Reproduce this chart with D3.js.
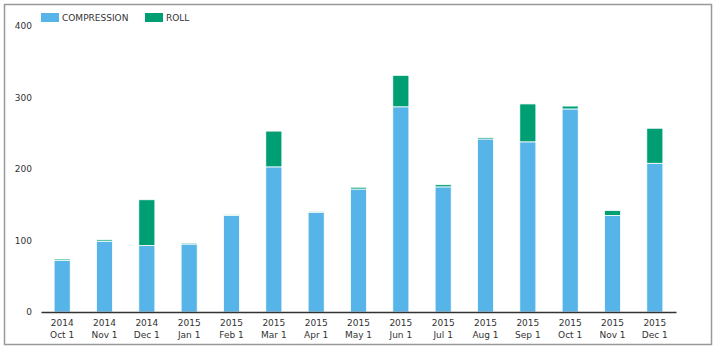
<!DOCTYPE html>
<html>
<head>
<meta charset="utf-8">
<script src="https://cdn.jsdelivr.net/npm/d3@7"></script>
<style>
  body { margin: 0; background: #fff; }
  svg text { font-family: "DejaVu Sans", Verdana, sans-serif; font-size: 9px; fill: #333; }
</style>
</head>
<body>
<div id="chart"></div>
<script>
const years = ['2014', '2014', '2014', '2015', '2015', '2015', '2015', '2015',
  '2015', '2015', '2015', '2015', '2015', '2015', '2015'];
const months = ['Oct 1', 'Nov 1', 'Dec 1', 'Jan 1', 'Feb 1', 'Mar 1', 'Apr 1', 'May 1',
  'Jun 1', 'Jul 1', 'Aug 1', 'Sep 1', 'Oct 1', 'Nov 1', 'Dec 1'];
const compression = [72, 99, 93, 95, 135, 203, 139, 172, 287, 175, 242, 238, 284, 135, 208];
const roll = [2, 2, 64, 1.5, 1, 50, 1.5, 2.5, 44, 3, 2, 53, 4, 7, 49];
const seriesNames = ['COMPRESSION', 'ROLL'];
const seriesColors = ['#56b4e9', '#009e73'];
const yTicks = [0, 100, 200, 300, 400];

const W = 717;
const H = 350;
const margin = { left: 41, right: 41, top: 26, bottom: 38 };

const svg = d3.select('#chart').append('svg')
  .attr('width', W)
  .attr('height', H);

svg.append('rect')
  .attr('x', 4.5).attr('y', 4.5)
  .attr('width', 707).attr('height', 340)
  .attr('fill', 'none')
  .attr('stroke', '#999')
  .attr('stroke-width', 1.5);

const keys = d3.range(years.length);
const rows = keys.map((i) => ({ i, COMPRESSION: compression[i], ROLL: roll[i] }));
const stacked = d3.stack().keys(seriesNames)(rows);

const x = d3.scaleBand()
  .domain(keys)
  .range([margin.left, W - margin.right])
  .paddingInner(0.62)
  .paddingOuter(0.31);

const y = d3.scaleLinear()
  .domain([0, 400])
  .range([H - margin.bottom, margin.top]);

const color = d3.scaleOrdinal().domain(seriesNames).range(seriesColors);

// y axis: labels only
const yAxis = d3.axisLeft(y)
  .tickValues(yTicks)
  .tickSize(0)
  .tickPadding(9);
const gy = svg.append('g')
  .attr('transform', `translate(${margin.left}, 0)`)
  .call(yAxis);
gy.select('.domain').remove();

// bars
svg.append('g').selectAll('g')
  .data(stacked)
  .join('g')
    .attr('fill', (d) => color(d.key))
  .selectAll('rect')
  .data((d) => d)
  .join('rect')
    .attr('x', (d) => x(d.data.i))
    .attr('width', x.bandwidth())
    .attr('y', (d) => y(d[1]))
    .attr('height', (d) => y(d[0]) - y(d[1]))
    .attr('stroke', '#fff')
    .attr('stroke-width', 0.8);

// x axis
const xAxis = d3.axisBottom(x)
  .tickSize(0)
  .tickFormat(() => '');
const gx = svg.append('g')
  .attr('transform', `translate(0, ${H - margin.bottom})`)
  .call(xAxis);
gx.select('.domain')
  .attr('stroke', '#333')
  .attr('stroke-width', 1.5);
gx.selectAll('.tick text').remove();
gx.selectAll('.tick').each(function (d) {
  const t = d3.select(this).append('text')
    .attr('text-anchor', 'middle');
  t.append('tspan').attr('x', 0).attr('y', 14).text(years[d]);
  t.append('tspan').attr('x', 0).attr('y', 26).text(months[d]);
});

// legend
const legend = svg.append('g');
const legendX = [41, 145];
seriesNames.forEach((name, k) => {
  legend.append('rect')
    .attr('x', legendX[k]).attr('y', 13)
    .attr('width', 18).attr('height', 9)
    .attr('fill', seriesColors[k]);
  legend.append('text')
    .attr('x', legendX[k] + 21).attr('y', 21)
    .text(name);
});
</script>
</body>
</html>
